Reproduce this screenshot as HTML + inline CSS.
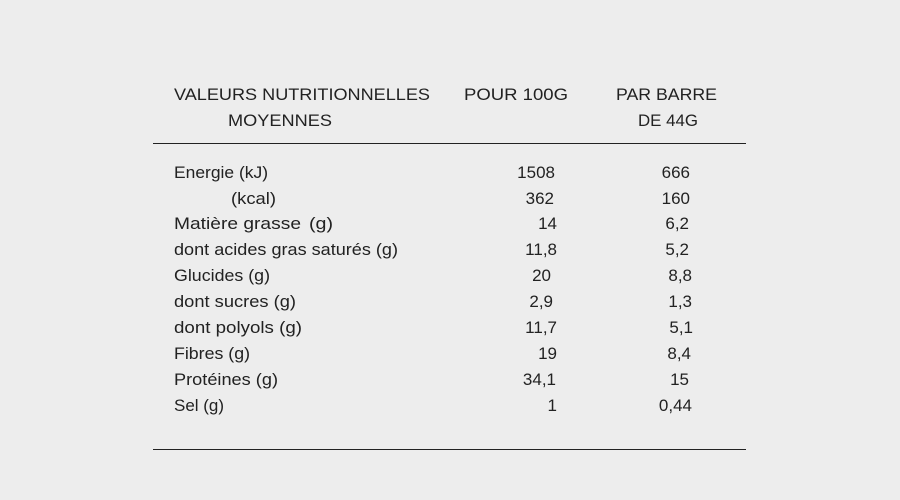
<!DOCTYPE html>
<html><head><meta charset="utf-8"><style>
html,body{margin:0;padding:0;background:#ededed;}
svg{display:block}
text{font-family:"Liberation Sans",sans-serif;font-size:17px;fill:#222;}
</style></head><body>
<svg width="900" height="500" viewBox="0 0 900 500">
<rect width="900" height="500" fill="#ededed"/>
<text x="174" y="100" textLength="256" lengthAdjust="spacingAndGlyphs">VALEURS NUTRITIONNELLES</text>
<text x="228" y="126" textLength="104" lengthAdjust="spacingAndGlyphs">MOYENNES</text>
<text x="464" y="100" textLength="104" lengthAdjust="spacingAndGlyphs">POUR 100G</text>
<text x="616" y="100" textLength="101" lengthAdjust="spacingAndGlyphs">PAR BARRE</text>
<text x="638" y="126" textLength="60" lengthAdjust="spacingAndGlyphs">DE 44G</text>
<line x1="153" y1="143.5" x2="746" y2="143.5" stroke="#222" stroke-width="1"/>
<line x1="153" y1="449.5" x2="746" y2="449.5" stroke="#222" stroke-width="1"/>
<g>
<text x="174" y="178" textLength="94" lengthAdjust="spacingAndGlyphs">Energie (kJ)</text>
<text x="231" y="204" textLength="45" lengthAdjust="spacingAndGlyphs">(kcal)</text>
<text x="174" y="229" textLength="127" lengthAdjust="spacingAndGlyphs">Matière grasse</text>
<text x="309" y="229" textLength="24" lengthAdjust="spacingAndGlyphs">(g)</text>
<text x="174" y="255" textLength="224" lengthAdjust="spacingAndGlyphs">dont acides gras saturés (g)</text>
<text x="174" y="281" textLength="96" lengthAdjust="spacingAndGlyphs">Glucides (g)</text>
<text x="174" y="307" textLength="122" lengthAdjust="spacingAndGlyphs">dont sucres (g)</text>
<text x="174" y="333" textLength="128" lengthAdjust="spacingAndGlyphs">dont polyols (g)</text>
<text x="174" y="359" textLength="76" lengthAdjust="spacingAndGlyphs">Fibres (g)</text>
<text x="174" y="385" textLength="104" lengthAdjust="spacingAndGlyphs">Protéines (g)</text>
<text x="174" y="411" textLength="50" lengthAdjust="spacingAndGlyphs">Sel (g)</text>
</g>
<g text-anchor="end">
<text x="555" y="178">1508</text>
<text x="554" y="204">362</text>
<text x="557" y="229">14</text>
<text x="557" y="255">11,8</text>
<text x="551" y="281">20</text>
<text x="553" y="307">2,9</text>
<text x="557" y="333">11,7</text>
<text x="557" y="359">19</text>
<text x="556" y="385">34,1</text>
<text x="557" y="411">1</text>
<text x="690" y="178">666</text>
<text x="690" y="204">160</text>
<text x="689" y="229">6,2</text>
<text x="689" y="255">5,2</text>
<text x="692" y="281">8,8</text>
<text x="692" y="307">1,3</text>
<text x="693" y="333">5,1</text>
<text x="691" y="359">8,4</text>
<text x="689" y="385">15</text>
<text x="692" y="411">0,44</text>
</g>
</svg>
</body></html>
